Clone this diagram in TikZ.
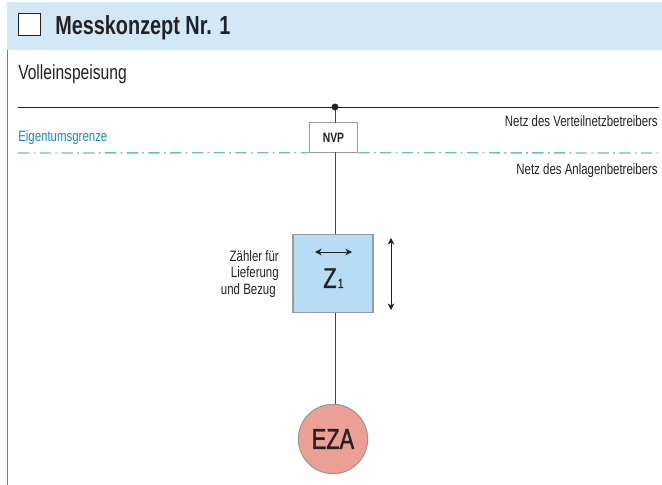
\documentclass[tikz,border=0pt]{standalone}
\usepackage{fontspec}
\setmainfont[FakeStretch=0.76]{Liberation Sans}
\usetikzlibrary{arrows.meta}

\definecolor{bandblue}{HTML}{D3E8F7}
\definecolor{meterblue}{HTML}{B8DCF5}
\definecolor{limitblue}{HTML}{6DB8DE}
\definecolor{limittext}{HTML}{1487C9}
\definecolor{ezared}{HTML}{EC9F94}
\definecolor{framegray}{HTML}{9A9A9A}
\definecolor{inkblack}{HTML}{222222}

\tikzset{
    lbl/.style={font=\fontsize{11.3}{13}\selectfont,text=inkblack,inner sep=0pt},
    wire/.style={draw=inkblack!85,line width=0.6pt},
    arrowtip/.style={{Stealth[length=5pt,width=5pt]}-{Stealth[length=5pt,width=5pt]},inkblack,line width=0.6pt}
}

\begin{document}
\begin{tikzpicture}[x=0.75pt,y=-0.75pt]
    
    \useasboundingbox (0,0) rectangle (662,485);
    
    % title band
    \fill [bandblue] (7,2) rectangle (662,50);
    \draw [framegray!80!black,line width=0.6pt] (7,50) -- (7,485);
    \node (checkbox) [draw=inkblack,fill=white,line width=0.6pt,minimum width=16.5pt,minimum height=16.5pt,inner sep=0pt] at (29.5,24) {};
    \node (title) [anchor=base west,inner sep=0pt,text=inkblack,font=\fontsize{19.6}{22}\selectfont\bfseries] at (55,35) {Messkonzept Nr. 1};
    \node (subtitle) [anchor=base west,inner sep=0pt,text=inkblack,font=\fontsize{15.4}{17}\selectfont] at (18,80) {Volleinspeisung};
    
    % grid line and connection point
    \coordinate (gridL) at (18,107);
    \coordinate (gridR) at (659,107);
    \coordinate (tap) at (335,107);
    \draw [inkblack,line width=0.6pt] (gridL) -- (gridR);
    
    % nodes
    \node (nvp) [draw=framegray,fill=white,line width=0.8pt,minimum width=36.5pt,minimum height=22pt,inner sep=0pt,font=\fontsize{10.2}{12}\selectfont\bfseries,text=inkblack] at (333.5,137.5) {NVP};
    \node (meter) [draw=framegray,fill=meterblue,line width=0.8pt,minimum width=60pt,minimum height=59pt,inner sep=0pt] at (333,273.5) {};
    \node (eza) [circle,draw=framegray,fill=ezared,line width=0.8pt,minimum size=52pt,inner sep=0pt,font=\fontsize{21.5}{24}\selectfont,text=inkblack] at (333,439) {\addfontfeature{FakeBold=1.2}EZA};
    
    % wires
    \draw [wire] (tap) -- (335,123);
    \draw [wire] (335,152) -- (335,234);
    \draw [wire] (335,313) -- (335,404);
    \fill [inkblack] (tap) circle (2.6pt);
    
    % ownership limit
    \coordinate (limitL) at (18,153);
    \coordinate (limitR) at (659,153);
    \draw [limitblue,line width=1pt,dash pattern=on 8.5pt off 3.2pt on 1.3pt off 3.3pt] (limitL) -- (nvp.south west);
    \draw [limitblue,line width=1pt,dash pattern=on 8.5pt off 3.2pt on 1.3pt off 3.3pt] (nvp.south east) -- (limitR);
    
    % meter inside
    \coordinate (flowL) at (315,252);
    \coordinate (flowR) at (352,252);
    \draw [arrowtip] (flowL) -- (flowR);
    \node (zone) [anchor=base west,inner sep=0pt,text=inkblack,font=\fontsize{21.5}{24}\selectfont] at (323,288) {\addfontfeature{FakeBold=1.2}Z\kern1pt{\fontsize{10}{11}\selectfont 1}};
    
    % range arrow
    \coordinate (rangeT) at (391,238);
    \coordinate (rangeB) at (391,310);
    \draw [arrowtip] (rangeT) -- (rangeB);
    
    % labels
    \node (eigentum) [lbl,anchor=base west,text=limittext] at (18,142) {Eigentumsgrenze};
    \node (netzV) [lbl,anchor=base east] at (658,127) {Netz des Verteilnetzbetreibers};
    \node (netzA) [lbl,anchor=base east] at (658,175) {Netz des Anlagenbetreibers};
    \node (zaehlerA) [lbl,anchor=base east] at (279,262) {Zähler für};
    \node (zaehlerB) [lbl,anchor=base east] at (279,278) {Lieferung};
    \node (zaehlerC) [lbl,anchor=base east] at (276,295) {und Bezug};
    
\end{tikzpicture}
\end{document}
